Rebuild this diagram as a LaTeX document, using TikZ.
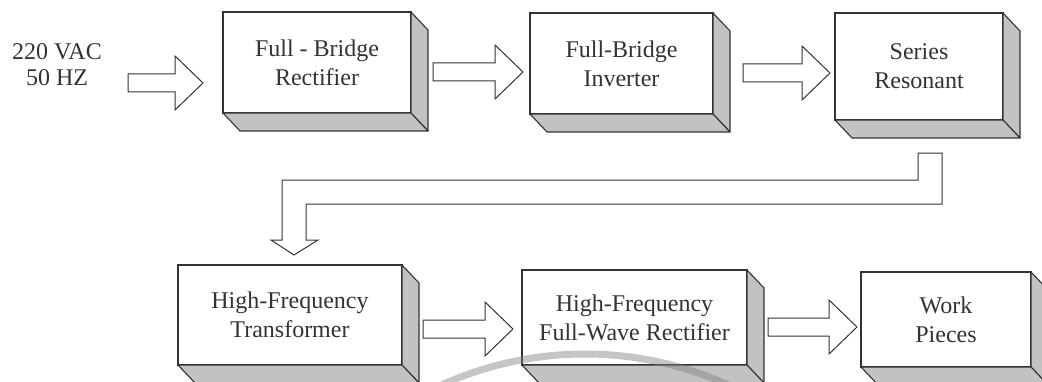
\documentclass[tikz,border=0pt]{standalone}
\usepackage{fontspec}
\setmainfont{Liberation Serif}
\usetikzlibrary{calc}

% fat block arrow from tail (#1) to tip (#2), both on one height
\newcommand{\fatarrow}[2]{%
  \draw[blockarrow] let \p1=(#1), \p2=(#2) in
    (\x1,\y1+9pt) -- (\x2-28pt,\y1+9pt) -- (\x2-28pt,\y1+27pt)
    -- (\x2,\y1) -- (\x2-28pt,\y1-27pt) -- (\x2-28pt,\y1-9pt)
    -- (\x1,\y1-9pt) -- cycle;}

\begin{document}
\begin{tikzpicture}[x=1pt,y=1pt,
  block/.style={draw=black!80, line width=1.2pt, fill=white, align=center,
    text=black!80, font=\fontsize{24}{29}\selectfont, inner sep=0pt, outer sep=0pt},
  side/.style={draw=black!80, line width=1.1pt, fill=gray!48, line join=round},
  blockarrow/.style={draw=black!80, line width=1pt, fill=white, line join=miter}]
  \useasboundingbox (0,0) rectangle (1042,381);

  % top row
  \node[text=black!80, align=center, font=\fontsize{24}{26}\selectfont] (src) at (57,316) {220 VAC\\50 HZ};
  \node[block, minimum width=188, minimum height=101] (b1) at (317,318.5) {Full - Bridge\\Rectifier};
  \node[block, minimum width=183, minimum height=101] (b2) at (621.5,317.5) {Full-Bridge\\Inverter};
  \node[block, minimum width=168, minimum height=107] (b3) at (919,314.5) {Series\\Resonant};

  % bottom row
  \node[block, minimum width=224, minimum height=100] (b4) at (290,66) {High-Frequency\\Transformer};
  \node[block, minimum width=225, minimum height=95] (b5) at (634.5,63.5) {High-Frequency\\Full-Wave Rectifier};
  \node[block, minimum width=170, minimum height=95] (b6) at (946,61.5) {Work\\Pieces};

  % shaded sides
  \foreach \b in {b1,b2,b3,b4,b5,b6}{
    \filldraw[side] (\b.north east) -- ++(17,-18) -- ([shift={(17,-18)}]\b.south east) -- (\b.south east) -- cycle;
    \filldraw[side] (\b.south west) -- ++(17,-18) -- ([shift={(17,-18)}]\b.south east) -- (\b.south east) -- cycle;
  }

  % arrows
  \coordinate (a1s) at (128,298);  \coordinate (a1e) at (203,298);
  \coordinate (a2s) at (433,309);  \coordinate (a2e) at (523,309);
  \coordinate (a3s) at (743,308);  \coordinate (a3e) at (830,308);
  \coordinate (a5s) at (423,52);   \coordinate (a5e) at (513,52);
  \coordinate (a6s) at (768,54);   \coordinate (a6e) at (857,54);
  \fatarrow{a1s}{a1e}
  \fatarrow{a2s}{a2e}
  \fatarrow{a3s}{a3e}
  \fatarrow{a5s}{a5e}
  \fatarrow{a6s}{a6e}

  % bent arrow b3 -> b4
  \coordinate (bs) at (930,228);
  \coordinate (be) at (294,126);
  \draw[blockarrow] let \p1=(bs), \p2=(be) in
    (\x1-12pt,\y1) -- (\x1+12pt,\y1) -- (\x1+12pt,177) -- (\x2+12pt,177)
    -- (\x2+12pt,141) -- (\x2+24pt,141) -- (\x2,\y2) -- (\x2-23pt,141)
    -- (\x2-12pt,141) -- (\x2-12pt,201) -- (\x1-12pt,201) -- cycle;

  % faint arc at the bottom
  \draw[gray, line width=7pt, opacity=0.45] (585,-320) ++(116:347) arc (116:64:347);
\end{tikzpicture}
\end{document}
